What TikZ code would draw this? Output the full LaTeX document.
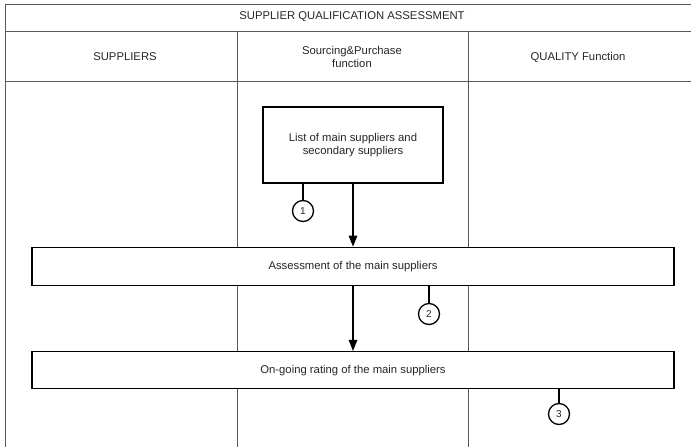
\documentclass[tikz,border=0pt]{standalone}
\usepackage{fontspec}
\setmainfont{Liberation Sans}
\usetikzlibrary{arrows.meta,positioning}

\tikzset{
  lane/.style={draw=black!65,line width=0.7pt},
  procbox/.style={draw,fill=white,line width=1.3pt,align=center,inner sep=0pt},
  refnum/.style={draw,circle,fill=white,line width=1.3pt,minimum size=21pt,inner sep=0pt,font=\fontsize{10}{11}\selectfont},
  tick/.style={line width=1.3pt},
  flow/.style={-{Triangle[length=11pt,width=8.5pt]},line width=1.3pt},
}

\begin{document}
\begin{tikzpicture}[x=1pt,y=-1pt,font=\fontsize{11.3}{13}\selectfont,text=black!85]
	\useasboundingbox (0,0) rectangle (691,447);

	% lanes
	\draw[lane] (5,448) -- (5,4) -- (696,4);
	\draw[lane] (5,31) -- (696,31);
	\draw[lane] (5,81) -- (696,81);
	\foreach \x in {237,468}{
			\draw[lane] (\x,31) -- (\x,448);
		}

	\node (title) at (352,17) {SUPPLIER QUALIFICATION ASSESSMENT};
	\node (suppliers) at (125,57) {SUPPLIERS};
	\node[align=center] (sourcing) at (352,57) {Sourcing\&Purchase\\function};
	\node (quality) at (578,57) {QUALITY Function};

	% process steps
	\node[procbox,minimum width=180pt,minimum height=76pt] (list) at (353,145) {List of main suppliers and\\secondary suppliers};
	\node[procbox,minimum width=642pt,minimum height=38pt,below=63pt of list] (assess) {Assessment of the main suppliers};
	\node[procbox,minimum width=642pt,minimum height=37pt,below=65pt of assess] (rating) {On-going rating of the main suppliers};

	\draw[flow] (list) -- (assess);
	\draw[flow] (assess) -- (rating);

	% step numbers
	\node[refnum] (num1) at (303,211) {1};
	\node[refnum] (num2) at (429,314) {2};
	\node[refnum] (num3) at (559,414) {3};
	\draw[tick] (num1 |- list.south) -- (num1.north);
	\draw[tick] (num2 |- assess.south) -- (num2.north);
	\draw[tick] (num3 |- rating.south) -- (num3.north);
\end{tikzpicture}
\end{document}
